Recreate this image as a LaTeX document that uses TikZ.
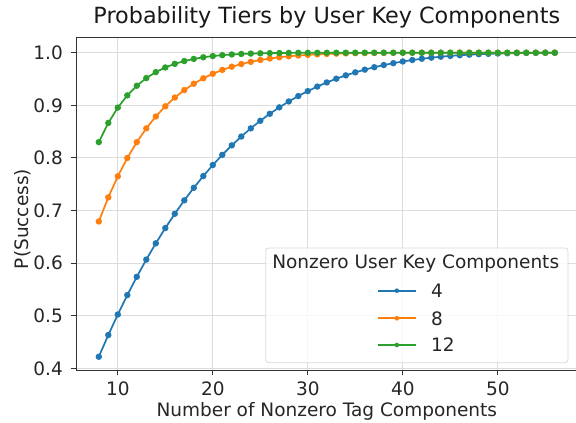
\documentclass[tikz,border=0pt]{standalone}
\usepackage{fontspec}
\setmainfont{DejaVu Sans}
\usetikzlibrary{calc}
\definecolor{cblue}{HTML}{1F77B4}
\definecolor{corange}{HTML}{FF7F0E}
\definecolor{cgreen}{HTML}{2CA02C}
\definecolor{gridc}{HTML}{DCDCDC}
\definecolor{spinec}{HTML}{333333}
\tikzset{
  gridline/.style={draw=gridc, line width=0.9pt},
  spine/.style={draw=spinec, line width=1pt},
  ticklab/.style={font=\fontsize{18.5}{21}\selectfont, text=black!85, inner sep=0pt},
  curve/.style={line width=1.7pt, mark=*, mark size=2.3pt, domain=8:56, samples=49, variable=\t},
  legline/.style={line width=1.7pt},
}
\begin{document}
\begin{tikzpicture}[x=1pt,y=1pt]
\useasboundingbox (0,0) rectangle (576,423);
\clip (0,0) rectangle (576,423);
\fill[white] (0,0) rectangle (576,423);
\begin{scope}[shift={(22.8pt,-155.7pt)}, x=9.5pt, y=526pt]
  % grid
  \foreach \gx in {10,20,30,40,50} \draw[gridline] (\gx,0.396) -- (\gx,1.0298);
  \foreach \gy in {4,...,10} \draw[gridline] (5.6,\gy/10) -- (58.4,\gy/10);
  % ticks and labels
  \foreach \gx in {10,20,30,40,50} {
    \draw[spine] (\gx,0.396) -- ++(0,-5pt);
    \node[ticklab, anchor=center] (xt\gx) at ([yshift=-18pt]\gx,0.396) {\gx};
  }
  \foreach \gy/\lab in {4/0.4,5/0.5,6/0.6,7/0.7,8/0.8,9/0.9,10/1.0} {
    \draw[spine] (5.6,\gy/10) -- ++(-5pt,0);
    \node[ticklab, anchor=east] (yt\gy) at ([xshift=-13pt]5.6,\gy/10) {\lab};
  }
  % curves
  \draw[cblue, curve] plot (\t, {1-(64-\t)/64*(63-\t)/63*(62-\t)/62*(61-\t)/61});
  \draw[corange, curve] plot (\t, {1-(64-\t)/64*(63-\t)/63*(62-\t)/62*(61-\t)/61*(60-\t)/60*(59-\t)/59*(58-\t)/58*(57-\t)/57});
  \draw[cgreen, curve] plot (\t, {1-(64-\t)/64*(63-\t)/63*(62-\t)/62*(61-\t)/61*(60-\t)/60*(59-\t)/59*(58-\t)/58*(57-\t)/57*(56-\t)/56*(55-\t)/55*(54-\t)/54*(53-\t)/53});
  % spines
  \draw[spine] (5.6,1.0298) -- (5.6,0.396) -- (58.4,0.396) -- (58.4,1.0298) -- cycle;
\end{scope}
% legend
\draw[rounded corners=3pt, draw=black!15, line width=0.8pt, fill=white, fill opacity=0.8] (265.7,175) rectangle (568,60.3);
\node[ticklab] (legtitle) at (415.7,159.7) {Nonzero User Key Components};
\coordinate (la1) at (377.7,132.3); \coordinate (lb1) at (416,132.3);
\coordinate (la2) at (377.7,104.7); \coordinate (lb2) at (416,104.7);
\coordinate (la3) at (377.7,78);    \coordinate (lb3) at (416,78);
\draw[cblue, legline] (la1) -- (lb1); \fill[cblue] ($(la1)!0.5!(lb1)$) circle (2.3pt);
\draw[corange, legline] (la2) -- (lb2); \fill[corange] ($(la2)!0.5!(lb2)$) circle (2.3pt);
\draw[cgreen, legline] (la3) -- (lb3); \fill[cgreen] ($(la3)!0.5!(lb3)$) circle (2.3pt);
\node[ticklab, anchor=west] (leg1) at (431,132.3) {4};
\node[ticklab, anchor=west] (leg2) at (431,104.7) {8};
\node[ticklab, anchor=west] (leg3) at (431,78) {12};
% labels
\node[ticklab] (xlabel) at (326.8,12) {Number of Nonzero Tag Components};
\node[ticklab, rotate=90] (ylabel) at (23,204) {P(Success)};
\node[font=\fontsize{22.3}{25}\selectfont, text=black!90, inner sep=0pt] (title) at (326.8,406) {Probability Tiers by User Key Components};
\end{tikzpicture}
\end{document}
